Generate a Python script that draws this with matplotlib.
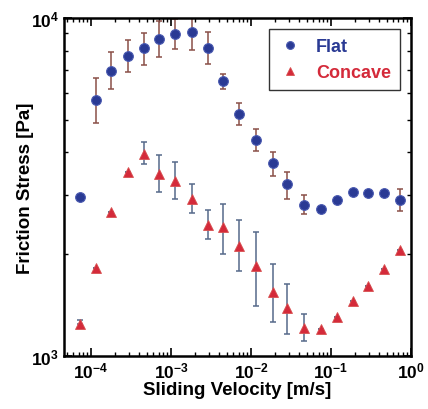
import matplotlib
matplotlib.use('Agg')
import matplotlib.pyplot as plt
from matplotlib.ticker import NullFormatter
import numpy as np

plt.rcParams['font.family'] = ['Liberation Sans', 'DejaVu Sans']
plt.rcParams['font.weight'] = 'bold'
plt.rcParams['mathtext.default'] = 'regular'

# sliding velocities (m/s), shared by both series
velocity = [7.3e-5, 1.14e-4, 1.78e-4, 2.87e-4, 4.64e-4, 7.15e-4, 1.12e-3, 1.81e-3,
            2.93e-3, 4.5e-3, 7.08e-3, 1.155e-2, 1.87e-2, 2.79e-2, 4.6e-2, 7.43e-2,
            0.12, 0.187, 0.293, 0.464, 0.729]

# Flat surface friction stress (Pa) with error bar ends
flat = [2950, 5700, 6980, 7730, 8150, 8670, 8970, 9080, 8150, 6530, 5200, 4370,
        3730, 3230, 2800, 2720, 2900, 3060, 3030, 3030, 2900]
flat_hi = [2950, 6640, 7930, 8610, 9030, 9800, 9950, 10000, 9100, 6820, 5610, 4700,
           4020, 3510, 2990, 2720, 2900, 3060, 3030, 3030, 3120]
flat_lo = [2950, 4890, 6160, 6920, 7260, 7670, 8090, 8040, 7310, 6160, 4820, 4050,
           3410, 2910, 2630, 2720, 2900, 3060, 3030, 3030, 2690]

# Concave surface friction stress (Pa) with error bar ends
concave = [1240, 1820, 2670, 3510, 3960, 3450, 3300, 2910, 2440, 2400, 2120, 1850,
           1550, 1390, 1210, 1200, 1300, 1450, 1610, 1810, 2060]
concave_hi = [1280, 1820, 2670, 3510, 4310, 3930, 3760, 3230, 2710, 2820, 2530, 2330,
              1870, 1630, 1330, 1200, 1300, 1450, 1610, 1810, 2060]
concave_lo = [1240, 1820, 2670, 3510, 3700, 3060, 2910, 2650, 2220, 2000, 1780, 1410,
              1260, 1160, 1110, 1200, 1300, 1450, 1610, 1810, 2060]

blue = '#2a3a94'
red = '#d42a3a'

fig = plt.figure(figsize=(4.28, 4.10), dpi=100)
ax = fig.add_axes([0.1495, 0.1293, 0.8105, 0.8244])

f = np.array(flat)
c = np.array(concave)
ax.errorbar(velocity, flat, yerr=[f - np.array(flat_lo), np.array(flat_hi) - f],
            fmt='none', ecolor='#8a5048', elinewidth=1.1, capsize=2.5, capthick=1.1)
ax.errorbar(velocity, concave, yerr=[c - np.array(concave_lo), np.array(concave_hi) - c],
            fmt='none', ecolor='#56698a', elinewidth=1.1, capsize=2.5, capthick=1.1)
ax.plot(velocity, flat, 'o', color=blue, markersize=7, markeredgecolor='#4a5ab0',
        markeredgewidth=0.8, label='Flat', zorder=3)
ax.plot(velocity, concave, '^', color=red, markersize=7, markeredgecolor='#d85050',
        markeredgewidth=0.6, label='Concave', zorder=3)

ax.set_xscale('log')
ax.set_yscale('log')
ax.set_xlim(4.6e-5, 1)
ax.set_ylim(1e3, 1e4)
ax.yaxis.set_minor_formatter(NullFormatter())
ax.xaxis.set_minor_formatter(NullFormatter())

ax.tick_params(which='both', direction='in', top=True, right=True)
ax.tick_params(which='major', length=6, width=1.2, labelsize=12.5)
ax.tick_params(which='minor', length=3, width=1.0)
for s in ax.spines.values():
    s.set_linewidth(1.8)

ax.set_xlabel('Sliding Velocity [m/s]', fontsize=13.5, fontweight='bold', labelpad=0)
ax.set_ylabel('Friction Stress [Pa]', fontsize=13.5, fontweight='bold', labelpad=-2)

leg = ax.legend(loc='upper right', fontsize=13, frameon=True, fancybox=False,
                edgecolor='black', handlelength=1.3, handletextpad=0.8,
                borderpad=0.5, borderaxespad=0.6, markerscale=0.8)
leg.get_frame().set_linewidth(1.0)
for txt, col in zip(leg.get_texts(), [blue, red]):
    txt.set_color(col)

fig.savefig('out.png', dpi=100)
